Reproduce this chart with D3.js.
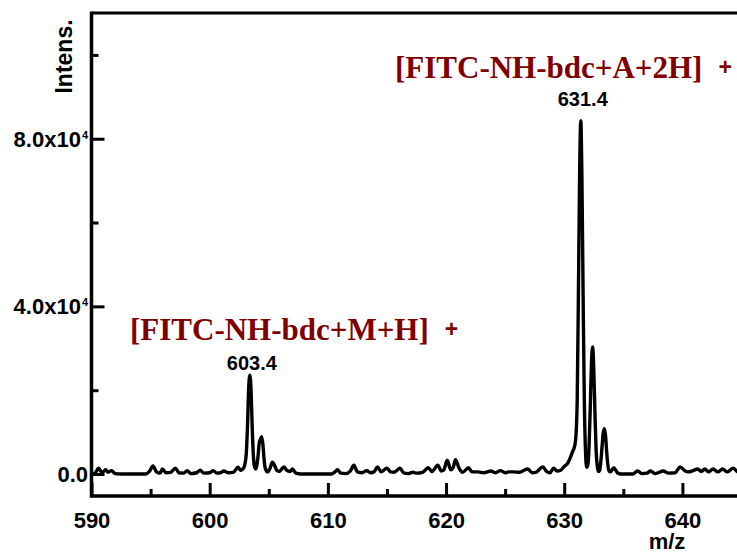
<!DOCTYPE html>
<html>
<head>
<meta charset="utf-8">
<script src="https://cdn.jsdelivr.net/npm/d3@7"></script>
<style>
  html, body { margin: 0; padding: 0; background: #fff; }
  svg { display: block; }
</style>
</head>
<body>
<svg id="chart" width="737" height="557"></svg>
<script>
// ---- data ----
const mz = [
  590.0, 590.3, 590.6, 590.9, 591.2, 591.4, 591.7, 592.0, 592.5, 594.6,
  594.9, 595.2, 595.5, 595.8, 596.0, 596.3, 596.7, 597.1, 597.4, 597.8,
  598.1, 598.4, 598.9, 599.2, 599.5, 600.0, 600.3, 600.6, 601.0, 601.2,
  601.6, 602.0, 602.4, 602.6, 602.9, 603.0, 603.1, 603.2, 603.3, 603.4,
  603.5, 603.6, 603.7, 603.8, 603.9, 604.0, 604.1, 604.2, 604.3, 604.4,
  604.5, 604.6, 604.7, 604.9, 605.1, 605.3, 605.5, 605.7, 605.9, 606.1,
  606.3, 606.5, 606.8, 607.0, 607.3, 607.7, 610.3, 610.6, 610.8, 611.1,
  611.5, 611.9, 612.2, 612.5, 612.9, 613.3, 613.6, 613.9, 614.2, 614.5,
  615.0, 615.3, 615.6, 615.9, 616.1, 616.4, 616.8, 617.2, 617.5, 618.0,
  618.5, 618.8, 619.3, 619.6, 619.8, 620.1, 620.4, 620.6, 620.8, 621.1,
  621.4, 621.9, 622.2, 622.7, 623.2, 623.8, 624.2, 624.6, 625.0, 625.3,
  625.7, 626.2, 626.9, 627.3, 627.6, 628.2, 628.5, 628.8, 629.1, 629.4,
  629.7, 630.0, 630.3, 630.5, 630.7, 630.9, 631.0, 631.1, 631.2, 631.3,
  631.4, 631.5, 631.6, 631.7, 631.8, 631.9, 632.0, 632.1, 632.2, 632.3,
  632.4, 632.5, 632.6, 632.7, 632.8, 632.9, 633.0, 633.1, 633.2, 633.3,
  633.4, 633.5, 633.6, 633.7, 633.8, 633.9, 634.2, 634.5, 634.8, 635.8,
  636.2, 636.6, 637.0, 637.3, 637.7, 638.4, 638.8, 639.4, 639.8, 640.2,
  640.5, 640.9, 641.3, 641.6, 641.9, 642.2, 642.6, 643.0, 643.4, 643.8,
  644.3, 644.7, 645.0
];
const intensity = [
  0, 200, 1400, 300, 1000, 400, 800, 100, 0, 0,
  600, 1900, 500, 200, 1200, 300, 400, 1400, 300, 200,
  800, 100, 300, 900, 200, 300, 800, 200, 400, 700,
  300, 400, 1600, 900, 1600, 2600, 5000, 11500, 20500, 23600,
  20000, 11000, 4200, 1600, 1200, 2200, 4500, 7500, 8300, 8900,
  7200, 3600, 1400, 500, 1300, 2800, 2000, 800, 600, 1200,
  1700, 900, 600, 1200, 200, 0, 0, 500, 1000, 200,
  100, 700, 2100, 500, 300, 800, 300, 500, 1700, 500,
  1400, 500, 400, 1000, 1400, 300, 100, 400, 200, 400,
  1500, 600, 2100, 700, 900, 3300, 1000, 1500, 3400, 1400,
  400, 1500, 500, 500, 300, 700, 300, 800, 300, 500,
  500, 400, 1200, 300, 400, 1700, 600, 300, 1400, 700,
  900, 1800, 2600, 3800, 5300, 6900, 9500, 18000, 43000, 71000,
  84300, 70000, 42000, 17500, 5500, 1600, 2200, 6500, 15500, 26000,
  30300, 25000, 14500, 5500, 1800, 600, 900, 3000, 6500, 9800,
  10800, 9000, 5000, 2000, 700, 500, 1500, 300, 0, 0,
  700, 100, 200, 700, 100, 700, 200, 300, 1700, 800,
  500, 800, 1200, 600, 1200, 500, 1200, 500, 1200, 500,
  1400, 500, 600
];

const xTickValues = [590, 600, 610, 620, 630, 640];
const xMinorTicks = [595, 605, 615, 625, 635, 645];
const yTickValues = [0, 40000, 80000];
const yTickText = ["0.0", "4.0x10", "8.0x10"];
const yTickSup = ["", "4", "4"];
const yMinorTicks = [20000, 60000, 100000];

const peakMz = [603.4, 631.4];
const peakLabels = ["603.4", "631.4"];
const ionLabels = ["[FITC-NH-bdc+M+H]", "[FITC-NH-bdc+A+2H]"];

const xTitle = "m/z";
const yTitle = "Intens.";

// ---- layout ----
const W = 737, H = 557;
const padL = 91.5, padT = 13, padB = 496, padR = 741.5;

const svg = d3.select("#chart");

const x = d3.scaleLinear().domain([590, 645]).range([padL, padR]);
const y = d3.scaleLinear().domain([-5250, 110000]).range([padB, padT]);

svg.append("defs").append("clipPath").attr("id", "plotclip")
  .append("rect").attr("x", padL).attr("y", padT).attr("width", padR - padL + 20).attr("height", padB - padT);

// spectrum line
const data = mz.map((m, i) => ({ m, v: intensity[i] }));
const line = d3.line().x(d => x(d.m)).y(d => y(d.v)).curve(d3.curveMonotoneX);
svg.append("path")
  .datum(data)
  .attr("clip-path", "url(#plotclip)")
  .attr("d", line)
  .attr("fill", "none")
  .attr("stroke", "#000")
  .attr("stroke-width", 3.4)
  .attr("stroke-linejoin", "round");

// x axis (ticks inward)
const xAxis = d3.axisBottom(x).tickValues(xTickValues).tickSize(-13).tickPadding(16).tickFormat(d3.format("d"));
const gx = svg.append("g").attr("transform", `translate(0,${padB})`).call(xAxis);
gx.select(".domain").remove();
gx.selectAll(".tick line").attr("stroke", "#000").attr("stroke-width", 3);
gx.selectAll(".tick text")
  .attr("font-family", "Liberation Sans, Arial, sans-serif")
  .attr("font-weight", "bold").attr("font-size", 22).attr("fill", "#000");
const gxm = svg.append("g").attr("transform", `translate(0,${padB})`)
  .call(d3.axisBottom(x).tickValues(xMinorTicks).tickSize(-7).tickFormat(""));
gxm.select(".domain").remove();
gxm.selectAll(".tick line").attr("stroke", "#000").attr("stroke-width", 3);

// y axis (ticks inward)
const yAxis = d3.axisLeft(y).tickValues(yTickValues).tickSize(-13).tickFormat("");
const gy = svg.append("g").attr("transform", `translate(${padL},0)`).call(yAxis);
gy.select(".domain").remove();
gy.selectAll(".tick line").attr("stroke", "#000").attr("stroke-width", 3);
const gym = svg.append("g").attr("transform", `translate(${padL},0)`)
  .call(d3.axisLeft(y).tickValues(yMinorTicks).tickSize(-7).tickFormat(""));
gym.select(".domain").remove();
gym.selectAll(".tick line").attr("stroke", "#000").attr("stroke-width", 3);

const yLab = svg.append("g").selectAll("text").data(yTickValues).join("text")
  .attr("x", 88).attr("y", d => y(d) + 8)
  .attr("text-anchor", "end")
  .attr("font-family", "Liberation Sans, Arial, sans-serif")
  .attr("font-weight", "bold").attr("font-size", 22).attr("fill", "#000");
yLab.append("tspan").text((d, i) => yTickText[i]);
yLab.append("tspan").attr("font-size", 11).attr("dy", -8).attr("dx", 1).text((d, i) => yTickSup[i]);

// frame: left axis line, bottom axis line, top border
svg.append("line").attr("x1", padL).attr("x2", padL).attr("y1", padT - 1.5).attr("y2", padB + 1.75)
  .attr("stroke", "#000").attr("stroke-width", 3.5);
svg.append("line").attr("x1", padL).attr("x2", W + 5).attr("y1", padB).attr("y2", padB)
  .attr("stroke", "#000").attr("stroke-width", 3.5);
svg.append("line").attr("x1", padL).attr("x2", W + 5).attr("y1", padT).attr("y2", padT)
  .attr("stroke", "#000").attr("stroke-width", 3);

// axis titles
svg.append("text").text(xTitle)
  .attr("x", 667).attr("y", 549).attr("text-anchor", "middle")
  .attr("font-family", "Liberation Sans, Arial, sans-serif")
  .attr("font-weight", "bold").attr("font-size", 22).attr("fill", "#000");
svg.append("text").text(yTitle)
  .attr("transform", "translate(72,56.5) rotate(-90)").attr("text-anchor", "middle")
  .attr("font-family", "Liberation Sans, Arial, sans-serif")
  .attr("font-weight", "bold").attr("font-size", 23).attr("fill", "#000");

// peak m/z labels
const peakLabelY = [370, 106];
svg.append("g").selectAll("text").data(peakMz).join("text")
  .attr("x", (d) => x(d) + 2).attr("y", (d, i) => peakLabelY[i])
  .attr("text-anchor", "middle")
  .attr("font-family", "Liberation Sans, Arial, sans-serif")
  .attr("font-weight", "bold").attr("font-size", 20).attr("fill", "#000")
  .text((d, i) => peakLabels[i]);

// ion annotations
const ionX = [130, 395];
const ionY = [340, 78];
const ionG = svg.append("g").selectAll("g").data(ionLabels).join("g");
ionG.append("text")
  .attr("x", (d, i) => ionX[i]).attr("y", (d, i) => ionY[i])
  .attr("font-family", "Liberation Serif, Times New Roman, serif")
  .attr("font-weight", "bold").attr("font-size", 31).attr("fill", "#800000")
  .text(d => d)
  .each(function (d, i) {
    const w = this.getComputedTextLength();
    d3.select(this.parentNode).append("text")
      .attr("x", ionX[i] + w + 16).attr("y", ionY[i] - 3)
      .attr("font-family", "Liberation Sans, Arial, sans-serif")
      .attr("font-weight", "bold").attr("font-size", 23).attr("fill", "#800000")
      .text("+");
  });
</script>
</body>
</html>
